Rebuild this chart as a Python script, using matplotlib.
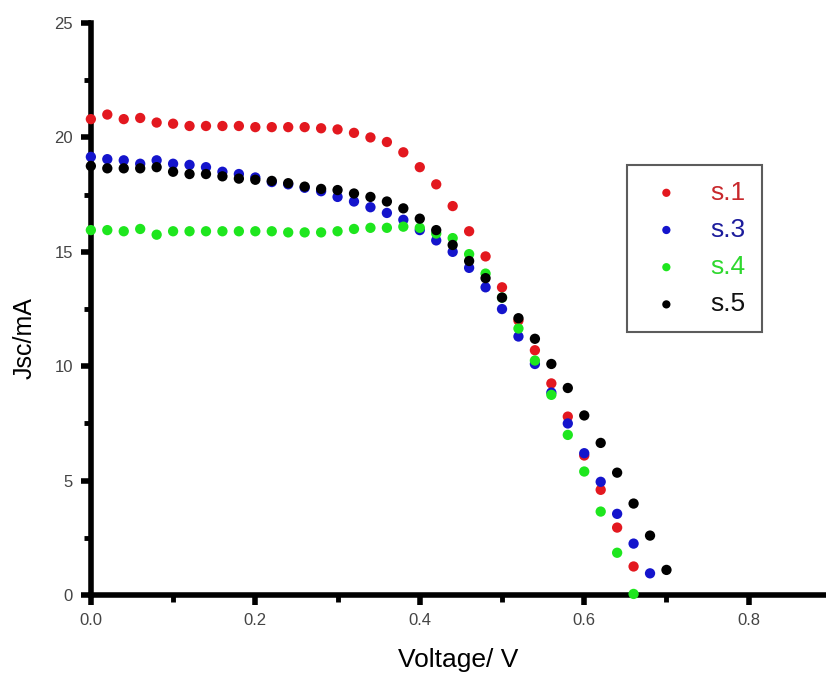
import numpy as np
import matplotlib.pyplot as plt
from matplotlib.ticker import MultipleLocator

plt.rcParams['font.family'] = ['Liberation Sans', 'DejaVu Sans']

# voltage steps (V)
v_s1 = np.round(np.arange(0, 0.661, 0.02), 2)
v_s3 = np.round(np.arange(0, 0.681, 0.02), 2)
v_s4 = np.round(np.arange(0, 0.661, 0.02), 2)
v_s5 = np.round(np.arange(0, 0.701, 0.02), 2)

# Jsc readings (mA)
j_s1 = [20.8, 21.0, 20.8, 20.85, 20.65, 20.6, 20.5, 20.5, 20.5, 20.5, 20.45, 20.45,
        20.45, 20.45, 20.4, 20.35, 20.2, 20.0, 19.8, 19.35, 18.7, 17.95, 17.0, 15.9,
        14.8, 13.45, 12.0, 10.7, 9.25, 7.8, 6.1, 4.6, 2.95, 1.25]
j_s3 = [19.15, 19.05, 19.0, 18.85, 19.0, 18.85, 18.8, 18.7, 18.5, 18.4, 18.25, 18.05,
        17.95, 17.8, 17.65, 17.4, 17.2, 16.95, 16.7, 16.4, 15.95, 15.5, 15.0, 14.3,
        13.45, 12.5, 11.3, 10.1, 8.85, 7.5, 6.2, 4.95, 3.55, 2.25, 0.95]
j_s4 = [15.95, 15.95, 15.9, 16.0, 15.75, 15.9, 15.9, 15.9, 15.9, 15.9, 15.9, 15.9,
        15.85, 15.85, 15.85, 15.9, 16.0, 16.05, 16.05, 16.1, 16.05, 15.8, 15.6, 14.9,
        14.05, 13.0, 11.65, 10.25, 8.75, 7.0, 5.4, 3.65, 1.85, 0.05]
j_s5 = [18.75, 18.65, 18.65, 18.65, 18.7, 18.5, 18.4, 18.4, 18.3, 18.2, 18.15, 18.1,
        18.0, 17.85, 17.75, 17.7, 17.55, 17.4, 17.2, 16.9, 16.45, 15.95, 15.3, 14.6,
        13.85, 13.0, 12.1, 11.2, 10.1, 9.05, 7.85, 6.65, 5.35, 4.0, 2.6, 1.1]

labels = ['s.1', 's.3', 's.4', 's.5']
colors = ['#e3181f', '#1414cc', '#1ee61e', '#000000']
text_colors = ['#c8282c', '#1c1c9c', '#2ed82e', '#111111']

fig = plt.figure(figsize=(8.26, 6.77), dpi=100)
ax = fig.add_axes([0.110, 0.121, 0.890, 0.845])

series = [(v_s1, j_s1), (v_s3, j_s3), (v_s4, j_s4), (v_s5, j_s5)]
for (v, j), lab, c in zip(series, labels, colors):
    ax.scatter(v, j, s=55, color=c, edgecolors='none', label=lab, zorder=3, clip_on=False)

ax.set_xlim(0, 0.894)
ax.set_ylim(0, 25)
ax.xaxis.set_major_locator(MultipleLocator(0.2))
ax.xaxis.set_minor_locator(MultipleLocator(0.1))
ax.yaxis.set_major_locator(MultipleLocator(5))
ax.yaxis.set_minor_locator(MultipleLocator(2.5))
ax.xaxis.set_major_formatter(plt.FuncFormatter(lambda x, p: f"{x:.1f}"))

for s in ['top', 'right']:
    ax.spines[s].set_visible(False)
for s in ['left', 'bottom']:
    ax.spines[s].set_linewidth(4)

ax.tick_params(which='major', direction='out', length=7, width=4,
               labelsize=12, labelcolor='#444444', pad=6)
ax.tick_params(which='minor', direction='out', length=5, width=3.5)

ax.set_xlabel('Voltage/ V', fontsize=19)
ax.set_ylabel('Jsc/mA', fontsize=18)
ax.xaxis.set_label_coords(0.5, -0.092)
ax.yaxis.set_label_coords(-0.074, 0.45)

leg = ax.legend(loc='upper left', bbox_to_anchor=(0.729, 0.752), frameon=True,
                fancybox=False, fontsize=19, handletextpad=0.78, labelspacing=0.5,
                borderpad=0.6, handlelength=1.8, borderaxespad=0, markerscale=0.8)
leg.get_frame().set_edgecolor('#333333')
leg.get_frame().set_linewidth(1.5)
for t, c in zip(leg.get_texts(), text_colors):
    t.set_color(c)

fig.savefig('out.png', dpi=100)
